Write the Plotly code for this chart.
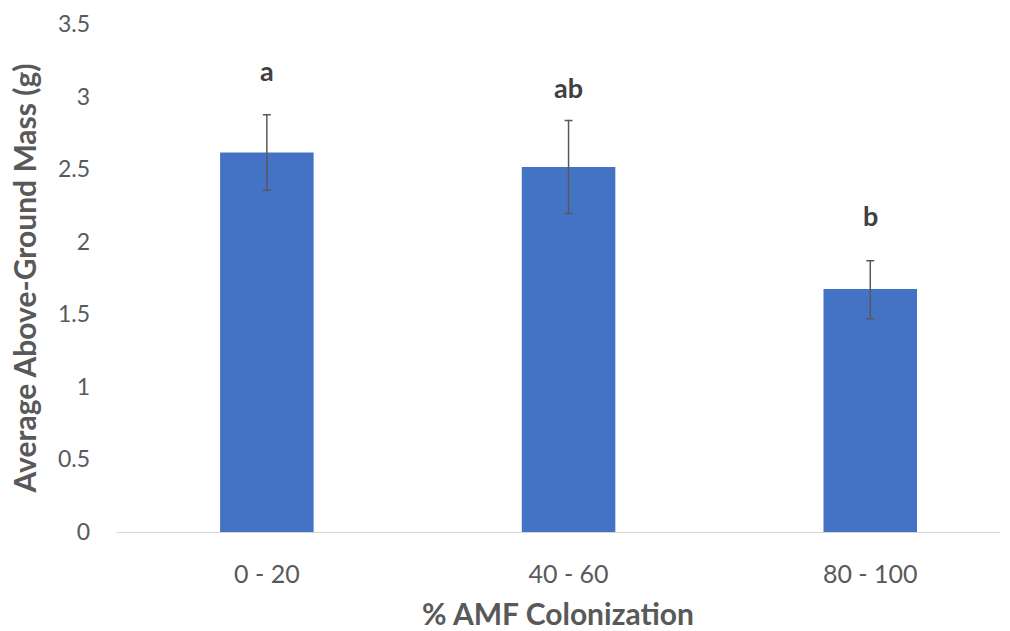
import plotly.graph_objects as go

categories = ["0 - 20", "40 - 60", "80 - 100"]
mass = [2.615, 2.515, 1.674]
err_up = [0.26, 0.32, 0.195]
err_down = [0.26, 0.32, 0.205]
letters = ["a", "ab", "b"]
letter_y = [3.18, 3.06, 2.18]
y_ticks = [0, 0.5, 1, 1.5, 2, 2.5, 3, 3.5]

FONT = "Lato"

fig = go.Figure()
fig.add_trace(go.Bar(
    x=categories, y=mass, width=0.31,
    marker=dict(color="#4472C4", line=dict(width=0)),
    error_y=dict(type="data", symmetric=False, array=err_up, arrayminus=err_down,
                 color="#595959", thickness=1.5, width=4),
))
for c, t, yy in zip(categories, letters, letter_y):
    fig.add_annotation(x=c, y=yy, text="<b>%s</b>" % t, showarrow=False,
                       font=dict(family=FONT, size=27, color="#404040"))

fig.update_layout(
    width=1010, height=631,
    margin=dict(l=116, r=10, t=24, b=99),
    paper_bgcolor="white", plot_bgcolor="white",
    showlegend=False,
    xaxis=dict(
        range=[-0.5, 2.43], showgrid=False, showline=True, linecolor="#d9d9d9", linewidth=1.3,
        tickfont=dict(family=FONT, size=25, color="#595959"), ticks="",
        ticklabelstandoff=20, automargin=False,
        title=dict(text="<b>% AMF Colonization</b>", standoff=16,
                   font=dict(family=FONT, size=30, color="#595959")),
    ),
    yaxis=dict(
        range=[0, 3.5], tickvals=y_ticks, ticktext=[str(v) if v % 1 else str(int(v)) for v in y_ticks],
        showgrid=False, showline=False, zeroline=False, ticks="",
        ticklabelstandoff=25, automargin=False,
        tickfont=dict(family=FONT, size=23, color="#595959"),
        title=dict(text="<b>Average Above-Ground Mass (g)</b>", standoff=12,
                   font=dict(family=FONT, size=30, color="#595959")),
    ),
)
fig.write_html("out.html", config={"displayModeBar": False},
               post_script="document.body.style.margin='0';")
